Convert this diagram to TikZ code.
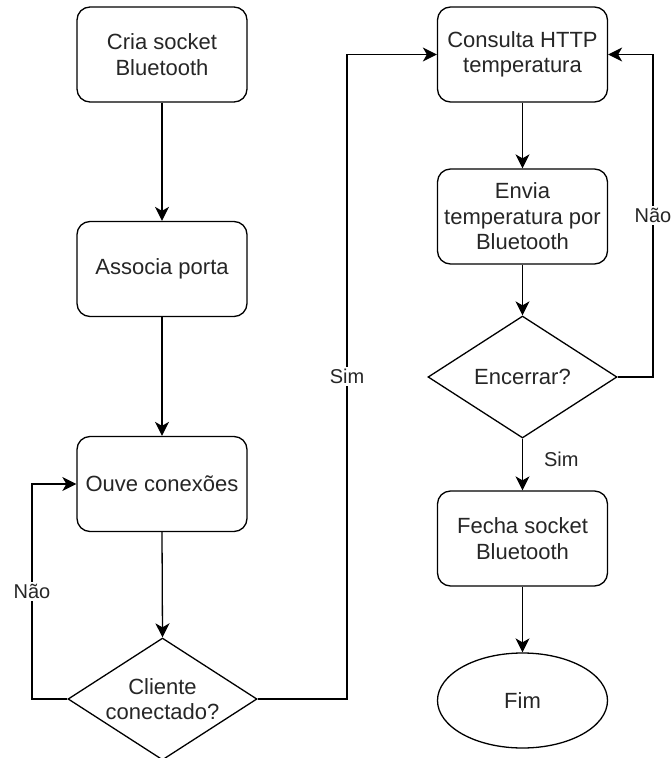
\documentclass[tikz,border=0pt]{standalone}
\usepackage{fontspec}
\setmainfont{Liberation Sans}
\usetikzlibrary{shapes.geometric,arrows.meta}

\begin{document}
\begin{tikzpicture}[x=1pt,y=-1pt,
  every node/.style={text=black!85},
  stepbox/.style={draw=black, line width=1.3pt, rounded corners=13pt,
    minimum width=170pt, minimum height=95pt, inner sep=2pt, align=center,
    font=\fontsize{22}{25.5}\selectfont},
  decision/.style={draw=black, line width=1.3pt, diamond, aspect=1.55,
    minimum width=189pt, minimum height=122pt, inner sep=0pt, align=center,
    font=\fontsize{22}{25.5}\selectfont},
  terminal/.style={draw=black, line width=1.3pt, ellipse,
    minimum width=170pt, minimum height=95pt, inner sep=0pt,
    font=\fontsize{22}{25.5}\selectfont},
  arr/.style={draw=black, line width=1.3pt,
    -{Stealth[length=14pt,width=14pt,inset=4pt]}},
  lbl/.style={fill=white, inner sep=2pt, font=\fontsize{20}{24}\selectfont},
  sidelbl/.style={inner sep=0pt, font=\fontsize{20}{24}\selectfont}
]
  % page frame
  \useasboundingbox[fill=white] (0,0) rectangle (672,758);

  % left column: server setup
  \node[stepbox]  (cria)    at (162,54.5)  {Cria socket\\Bluetooth};
  \node[stepbox]  (assoc)   at (162,269)   {Associa porta};
  \node[stepbox]  (ouve)    at (162,484)   {Ouve conexões};
  \node[decision] (cliente) at (162.5,699) {Cliente\\conectado?};

  % right column: serving loop
  \node[stepbox]  (consulta) at (522.5,54.5) {Consulta HTTP\\temperatura};
  \node[stepbox]  (envia)    at (522.5,216.5) {Envia\\temperatura por\\Bluetooth};
  \node[decision] (encerrar) at (522.5,377)  {Encerrar?};
  \node[stepbox]  (fecha)    at (522.5,538.5) {Fecha socket\\Bluetooth};
  \node[terminal] (fim)      at (522.5,700.5) {Fim};

  % routing points of the loops
  \coordinate (naoL) at (32,699);
  \coordinate (simJ) at (347,699);
  \coordinate (naoR) at (653,377);

  % straight connectors
  \draw[arr] (cria.south)  -- (assoc.north);
  \draw[arr] (assoc.south) -- (ouve.north);
  \draw[arr] (ouve.south)  -- (cliente.north);
  \draw[arr] (consulta.south) -- (envia.north);
  \draw[arr] (envia.south) -- (encerrar.north);
  \draw[arr] (encerrar.south) -- (fecha.north)
    node[sidelbl, pos=0.4, anchor=west, xshift=21pt] {Sim};
  \draw[arr] (fecha.south) -- (fim.north);

  % loops
  \draw[arr] (cliente.west) -- (naoL) |- (ouve.west)
    node[lbl, pos=0.25] {Não};
  \draw[arr] (cliente.east) -- (simJ) |- (consulta.west)
    node[lbl, pos=0.25] {Sim};
  \draw[arr] (encerrar.east) -- (naoR) |- (consulta.east)
    node[lbl, pos=0.25] {Não};
\end{tikzpicture}
\end{document}
